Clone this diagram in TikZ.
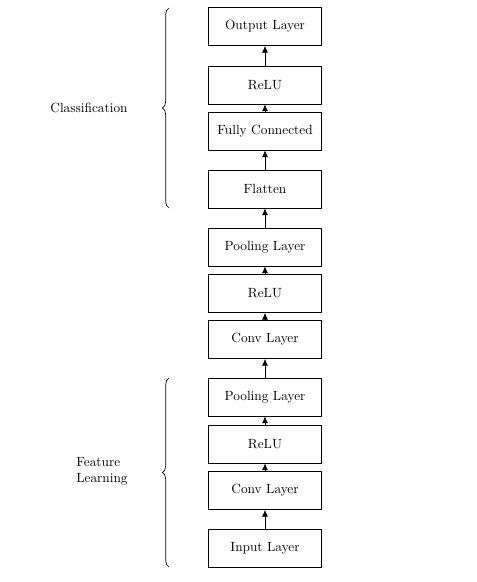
\documentclass[tikz,border=0pt]{standalone}
\usetikzlibrary{decorations.pathreplacing,arrows.meta}
\begin{document}
\begin{tikzpicture}[x=0.75pt,y=-0.75pt,
  layer/.style={draw, line width=0.7pt, minimum width=3cm, minimum height=1cm, inner sep=0pt, font=\normalsize},
  flow/.style={-{Latex[length=5pt,width=4.5pt]}, line width=0.5pt},
  grp/.style={decorate, decoration={brace, amplitude=5pt}, line width=0.5pt}]
\useasboundingbox (0,0) rectangle (477,582);
\node[layer] (out) at (265,26.5) {Output Layer};
\node[layer] (relu3) at (265,85) {ReLU};
\node[layer] (fc) at (265,131) {Fully Connected};
\node[layer] (flat) at (265,189) {Flatten};
\node[layer] (pool2) at (265,247) {Pooling Layer};
\node[layer] (relu2) at (265,293.5) {ReLU};
\node[layer] (conv2) at (265,339.5) {Conv Layer};
\node[layer] (pool1) at (265,397) {Pooling Layer};
\node[layer] (relu1) at (265,444) {ReLU};
\node[layer] (conv1) at (265,490.5) {Conv Layer};
\node[layer] (in) at (265,548) {Input Layer};
\draw[flow] (in) -- (conv1);
\draw[flow] (conv1) -- (relu1);
\draw[flow] (relu1) -- (pool1);
\draw[flow] (pool1) -- (conv2);
\draw[flow] (conv2) -- (relu2);
\draw[flow] (relu2) -- (pool2);
\draw[flow] (pool2) -- (flat);
\draw[flow] (flat) -- (fc);
\draw[flow] (fc) -- (relu3);
\draw[flow] (relu3) -- (out);
\coordinate (cb) at (169,208);
\coordinate (ct) at (169,8);
\coordinate (fb) at (169,567);
\coordinate (ft) at (169,378);
\draw[grp] (cb) -- (ct);
\draw[grp] (fb) -- (ft);
\node[font=\normalsize] (cls) at (89,108) {Classification};
\node[font=\normalsize, align=left, anchor=west, inner sep=0pt] (feat) at (76,471.5) {Feature\\Learning};
\end{tikzpicture}
\end{document}
